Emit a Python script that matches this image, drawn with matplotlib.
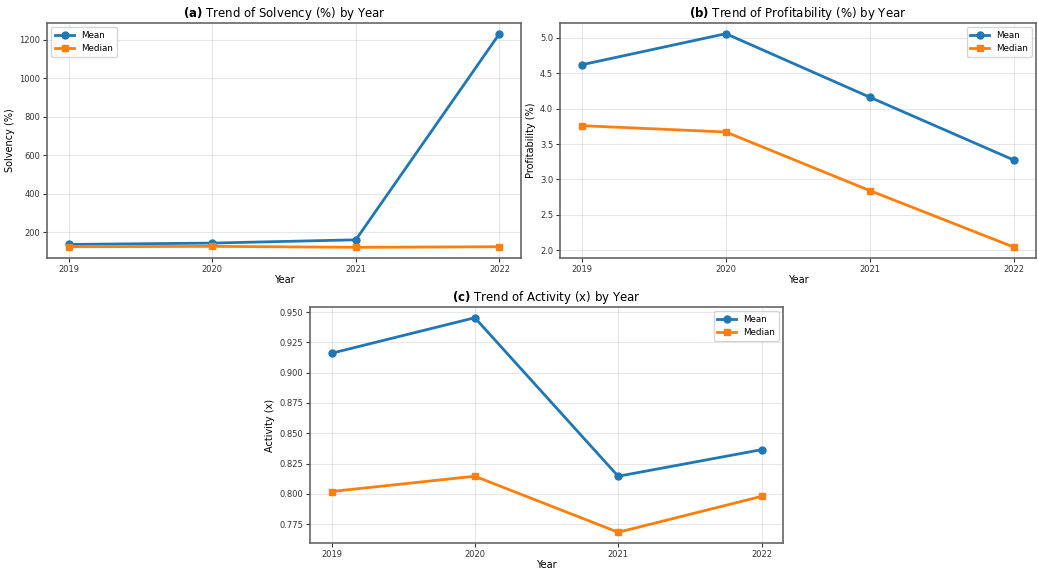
import matplotlib.pyplot as plt

years = [2019, 2020, 2021, 2022]

solvency_mean = [136, 143, 160, 1231]
solvency_median = [124, 126, 121, 124]

profit_mean = [4.62, 5.06, 4.16, 3.27]
profit_median = [3.76, 3.67, 2.84, 2.04]

activity_mean = [0.916, 0.9453, 0.8146, 0.8365]
activity_median = [0.802, 0.8146, 0.7684, 0.798]

W, H = 1038, 569
fig = plt.figure(figsize=(W / 100, H / 100), dpi=100)


def px_axes(left, top, right, bottom):
    return fig.add_axes([left / W, 1 - bottom / H, (right - left) / W, (bottom - top) / H])


def trend(ax, mean, median, tag, name, ylabel, loc):
    ax.plot(years, mean, marker='o', color='#1f77b4', lw=2, ms=5, label='Mean')
    ax.plot(years, median, marker='s', color='#ff7f0e', lw=2, ms=5, label='Median')
    ax.set_title(r'$\bf{' + tag + '}$ ' + name, fontsize=8.5, pad=4)
    ax.set_xlabel('Year', fontsize=7, labelpad=1)
    ax.set_ylabel(ylabel, fontsize=7, labelpad=3)
    ax.set_xticks(years)
    ax.tick_params(labelsize=6, length=3, pad=2, colors='#333333')
    ax.grid(True, alpha=0.3)
    for s in ax.spines.values():
        s.set_color('#666666')
        s.set_linewidth(1.2)
    ax.legend(loc=loc, fontsize=6.3, framealpha=0.8, handlelength=2.2)


ax1 = px_axes(47, 23, 521, 258)
trend(ax1, solvency_mean, solvency_median, '(a)', 'Trend of Solvency (%) by Year', 'Solvency (%)', 'upper left')

ax2 = px_axes(560, 23, 1036, 258)
trend(ax2, profit_mean, profit_median, '(b)', 'Trend of Profitability (%) by Year', 'Profitability (%)', 'upper right')

ax3 = px_axes(310, 307, 783, 543)
trend(ax3, activity_mean, activity_median, '(c)', 'Trend of Activity (x) by Year', 'Activity (x)', 'upper right')

fig.savefig('out.png', dpi=100)
